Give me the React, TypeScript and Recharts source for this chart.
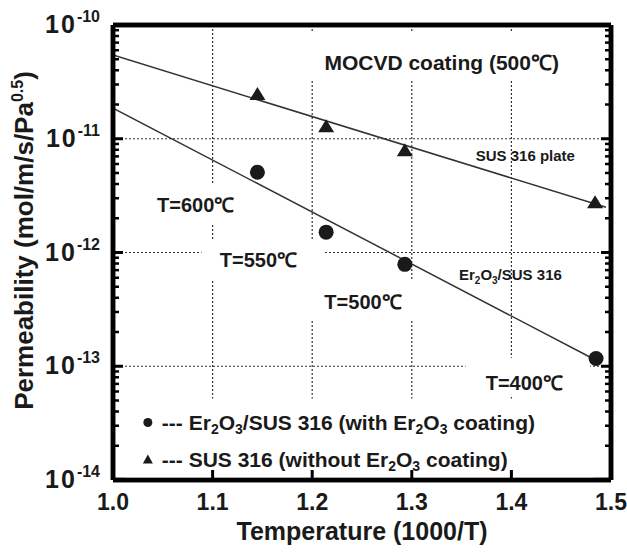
import React from 'react'
import {
  ComposedChart, Line, Scatter, XAxis, YAxis, CartesianGrid, ReferenceArea, ReferenceDot,
} from 'recharts'

const FONT = '"Liberation Sans", Arial, Helvetica, sans-serif'
const INK = '#1a1a1a'

// axis ticks
const xTicks = [1.0, 1.1, 1.2, 1.3, 1.4, 1.5]
const decades = [1e-14, 1e-13, 1e-12, 1e-11, 1e-10]
const minorSteps = [2, 3, 4, 5, 6, 7, 8, 9]
const yTicks = [
  ...decades,
  ...decades.slice(0, 4).flatMap(d => minorSteps.map(k => k * d)),
]
const xGrid = [1.1, 1.2, 1.3, 1.4]
const yGrid = [1e-13, 1e-12, 1e-11]
// the plot frame is drawn as grid lines on the domain edges
const xEdges = [1.0, 1.5]
const yEdges = [1e-14, 1e-10]

// measured points (1000/T vs permeability)
const coatedX = [1.145, 1.214, 1.293, 1.485]
const coatedY = [5.08e-12, 1.51e-12, 7.87e-13, 1.17e-13]
const bareX = [1.145, 1.214, 1.293, 1.484]
const bareY = [2.47e-11, 1.29e-11, 7.94e-12, 2.77e-12]

// fitted lines
const coatedFitX = [1.0, 1.485]
const coatedFitY = [1.86e-11, 1.13e-13]
const bareFitX = [1.0, 1.495]
const bareFitY = [5.44e-11, 2.5e-12]

const zip = (xs: number[], ys: number[]) => xs.map((x, i) => ({ x, y: ys[i] }))
const coated = zip(coatedX, coatedY)
const bare = zip(bareX, bareY)
const coatedFit = zip(coatedFitX, coatedFitY)
const bareFit = zip(bareFitX, bareFitY)

// white patches where the dotted grid is broken by the annotations
const gaps = [
  { x1: 1.147, x2: 1.492, y1: 3.28e-11, y2: 8.5e-11 },
  { x1: 1.037, x2: 1.132, y1: 1.81e-12, y2: 4.07e-12 },
  { x1: 1.089, x2: 1.212, y1: 5.81e-13, y2: 1.28e-12 },
  { x1: 1.187, x2: 1.305, y1: 2.53e-13, y2: 5.81e-13 },
  { x1: 1.354, x2: 1.479, y1: 5.42e-14, y2: 1.19e-13 },
  { x1: 1.012, x2: 1.482, y1: 1.05e-14, y2: 5.21e-14 },
]

// annotations: [x, y, text, size]
const notes: [number, number, string, number][] = [
  [1.33, 4.72e-11, 'MOCVD coating (500℃)', 21],
  [1.083, 2.6e-12, 'T=600℃', 20],
  [1.146, 8.54e-13, 'T=550℃', 20],
  [1.251, 3.65e-13, 'T=500℃', 20],
  [1.413, 7.2e-14, 'T=400℃', 20],
  [1.414, 7.17e-12, 'SUS 316 plate', 15],
]

const isDecade = (v: number) => Math.abs(Math.log10(v) - Math.round(Math.log10(v))) < 1e-6

function LeftTick({ x, y, payload }: any) {
  const v = payload.value
  const major = isDecade(v)
  return (
    <g>
      <line x1={x} x2={x + (major ? 10 : 6)} y1={y} y2={y} stroke="#000" strokeWidth={major ? 3 : 2.5} />
      {major && (
        <text x={x - 13} y={y + 8} textAnchor="end" fontFamily={FONT} fontWeight="bold" fontSize={25} fill={INK} letterSpacing={2}>
          10<tspan dy={-11} fontSize={16} letterSpacing={0}>{`-${Math.abs(Math.round(Math.log10(v)))}`}</tspan>
        </text>
      )}
    </g>
  )
}

function RightTick({ x, y, payload }: any) {
  const major = isDecade(payload.value)
  return (
    <g>
      <line x1={x} x2={x - (major ? 10 : 6)} y1={y} y2={y} stroke="#000" strokeWidth={major ? 3 : 2.5} />
    </g>
  )
}

function BottomTick({ x, y, payload }: any) {
  return (
    <g>
      <line x1={x} x2={x} y1={y} y2={y - 10} stroke="#000" strokeWidth={3} />
      <text x={x} y={y + 30} textAnchor="middle" fontFamily={FONT} fontWeight="bold" fontSize={23} fill={INK}>
        {payload.value.toFixed(1)}
      </text>
    </g>
  )
}

function TopTick({ x, y }: any) {
  return (
    <g>
      <line x1={x} x2={x} y1={y} y2={y + 10} stroke="#000" strokeWidth={3} />
    </g>
  )
}

function YTitle({ viewBox }: any) {
  const cx = 33
  const cy = viewBox.y + viewBox.height / 2 - 12
  return (
    <text x={cx} y={cy} transform={`rotate(-90 ${cx} ${cy})`} textAnchor="middle" fontFamily={FONT} fontWeight="bold" fontSize={26} fill={INK}>
      Permeability (mol/m/s/Pa<tspan dy={-10} fontSize={16}>0.5</tspan><tspan dy={10}>)</tspan>
    </text>
  )
}

function XTitle({ viewBox }: any) {
  return (
    <text x={viewBox.x + viewBox.width / 2} y={540} textAnchor="middle" fontFamily={FONT} fontWeight="bold" fontSize={25} fill={INK}>
      Temperature (1000/T)
    </text>
  )
}

// "Er2O3" with subscripts, then the text that follows it back on the baseline
function Er2O3({ size, after }: { size: number; after: string }) {
  return (
    <>
      {'Er'}
      <tspan dy={4} fontSize={size}>2</tspan>
      <tspan dy={-4}>O</tspan>
      <tspan dy={4} fontSize={size}>3</tspan>
      <tspan dy={-4}>{after}</tspan>
    </>
  )
}

const circleShape = ({ cx, cy }: any) => <circle cx={cx} cy={cy} r={7.5} fill={INK} />
const triangleShape = ({ cx, cy }: any) => (
  <polygon points={`${cx},${cy - 7} ${cx - 8},${cy + 6} ${cx + 8},${cy + 6}`} fill={INK} />
)

function legendShape({ cx, cy }: any) {
  const style = { fontFamily: FONT, fontWeight: 'bold' as const, fontSize: 21, fill: INK }
  return (
    <g>
      <circle cx={cx} cy={cy} r={4.5} fill={INK} />
      <text x={cx + 14} y={cy + 7} {...style}>
        {'--- '}<Er2O3 size={14} after="/SUS 316 (with " /><Er2O3 size={14} after=" coating)" />
      </text>
      <polygon points={`${cx},${cy + 32} ${cx - 5},${cy + 41} ${cx + 5},${cy + 41}`} fill={INK} />
      <text x={cx + 14} y={cy + 44} {...style}>
        {'--- SUS 316 (without '}<Er2O3 size={14} after=" coating)" />
      </text>
    </g>
  )
}

function noteShape(text: string, size: number) {
  return ({ cx, cy }: any) => (
    <text x={cx} y={cy + size * 0.36} textAnchor="middle" fontFamily={FONT} fontWeight="bold" fontSize={size} fill={INK}>
      {text}
    </text>
  )
}

function erShape({ cx, cy }: any) {
  return (
    <text x={cx} y={cy + 5} textAnchor="middle" fontFamily={FONT} fontWeight="bold" fontSize={15} fill={INK}>
      <Er2O3 size={10} after="/SUS 316" />
    </text>
  )
}

const axisLine = { stroke: '#000', strokeWidth: 4.5 }

export default function App() {
  return (
    <div style={{ position: 'absolute', left: 0, top: 0, width: 627, height: 554 }}>
      <ComposedChart width={627} height={554} margin={{ top: 0, right: 0, bottom: 0, left: 0 }}>
        <CartesianGrid
          xAxisId="b" yAxisId="l"
          stroke="#333" strokeWidth={1.2} strokeDasharray="2 2"
          horizontalValues={yGrid} verticalValues={xGrid}
        />
        <XAxis
          xAxisId="b" dataKey="x" type="number" domain={[1, 1.5]} ticks={xTicks} interval={0} allowDataOverflow
          height={74} tickSize={0} tickMargin={0} tickLine={false} axisLine={axisLine} tick={<BottomTick />}
          label={<XTitle />}
        />
        <XAxis
          xAxisId="t" orientation="top" type="number" domain={[1, 1.5]} ticks={xTicks} interval={0} allowDataOverflow
          height={25} tickSize={0} tickMargin={0} tickLine={false} axisLine={axisLine} tick={<TopTick />}
        />
        <YAxis
          yAxisId="l" dataKey="y" type="number" scale="log" domain={[1e-14, 1e-10]} ticks={yTicks} interval={0} allowDataOverflow
          width={113} tickSize={0} tickMargin={0} tickLine={false} axisLine={axisLine} tick={<LeftTick />}
          label={<YTitle />}
        />
        <YAxis
          yAxisId="r" orientation="right" type="number" scale="log" domain={[1e-14, 1e-10]} ticks={yTicks} interval={0} allowDataOverflow
          width={16} tickSize={0} tickMargin={0} tickLine={false} axisLine={axisLine} tick={<RightTick />}
        />
        {gaps.map((g, i) => (
          <ReferenceArea key={i} xAxisId="b" yAxisId="l" {...g} fill="#fff" fillOpacity={1} stroke="none" ifOverflow="visible" />
        ))}
        {notes.map(([x, y, text, size]) => (
          <ReferenceDot key={text} xAxisId="b" yAxisId="l" x={x} y={y} r={0} shape={noteShape(text, size)} ifOverflow="visible" />
        ))}
        <ReferenceDot xAxisId="b" yAxisId="l" x={1.399} y={6.3e-13} r={0} shape={erShape} ifOverflow="visible" />
        <ReferenceDot xAxisId="b" yAxisId="l" x={1.035} y={3.2e-14} r={0} shape={legendShape} ifOverflow="visible" />
        <Line xAxisId="b" yAxisId="l" data={bareFit} dataKey="y" stroke="#333" strokeWidth={1.5} dot={false} isAnimationActive={false} />
        <Line xAxisId="b" yAxisId="l" data={coatedFit} dataKey="y" stroke="#333" strokeWidth={1.5} dot={false} isAnimationActive={false} />
        <Scatter xAxisId="b" yAxisId="l" data={bare} dataKey="y" shape={triangleShape} isAnimationActive={false} />
        <Scatter xAxisId="b" yAxisId="l" data={coated} dataKey="y" shape={circleShape} isAnimationActive={false} />
        {/* heavy frame as solid grid lines on the domain edges */}
        <CartesianGrid
          xAxisId="b" yAxisId="l"
          stroke="#000" strokeWidth={4.5}
          horizontalValues={yEdges} verticalValues={xEdges}
        />
      </ComposedChart>
    </div>
  )
}
